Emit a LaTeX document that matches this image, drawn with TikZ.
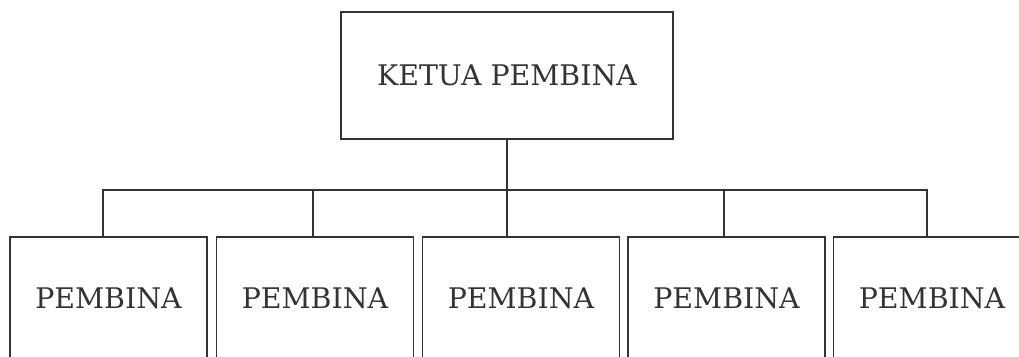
\documentclass[tikz,border=0pt]{standalone}
\usepackage{fontspec}
\setmainfont{DejaVu Serif}
\usepackage{tikz}

\begin{document}
\begin{tikzpicture}[
    x = 0.025cm, y = -0.025cm,
    box/.style = {
      draw = black!80,
      line width = 1.2pt,
      text = black!80,
      font = \fontsize{20.2}{24}\selectfont,
      inner sep = 0pt,
      anchor = center
    },
    member/.style = {
      box,
      minimum width = 4.925cm,
      minimum height = 3.05cm
    },
    link/.style = {
      draw = black!80,
      line width = 1.2pt
    }
  ]
  \useasboundingbox (0,0) rectangle (1019,356);
  \clip (0,0) rectangle (1019,356);

  % The head box
  \node[box, minimum width = 8.3cm, minimum height = 3.175cm] (ketua) at (507,75.5) {KETUA PEMBINA};

  % The five member boxes
  \node[member] (p1) at (108.5,298) {PEMBINA};
  \node[member] (p2) at (315,298)   {PEMBINA};
  \node[member] (p3) at (521,298)   {PEMBINA};
  \node[member] (p4) at (726.5,298) {PEMBINA};
  \node[member] (p5) at (932,298)   {PEMBINA};

  % The bar and its branches
  \coordinate (bar) at (0,190);
  \draw[link] (ketua.south) -- (ketua.south |- p3.north);
  \draw[link] ([xshift=-0.14cm]p1.north) |- ([xshift=-0.125cm]p5.north |- bar) -- ([xshift=-0.125cm]p5.north);
  \draw[link] ([xshift=-0.05cm]p2.north) -- ([xshift=-0.05cm]p2.north |- bar);
  \draw[link] ([xshift=-0.06cm]p4.north) -- ([xshift=-0.06cm]p4.north |- bar);
\end{tikzpicture}
\end{document}
